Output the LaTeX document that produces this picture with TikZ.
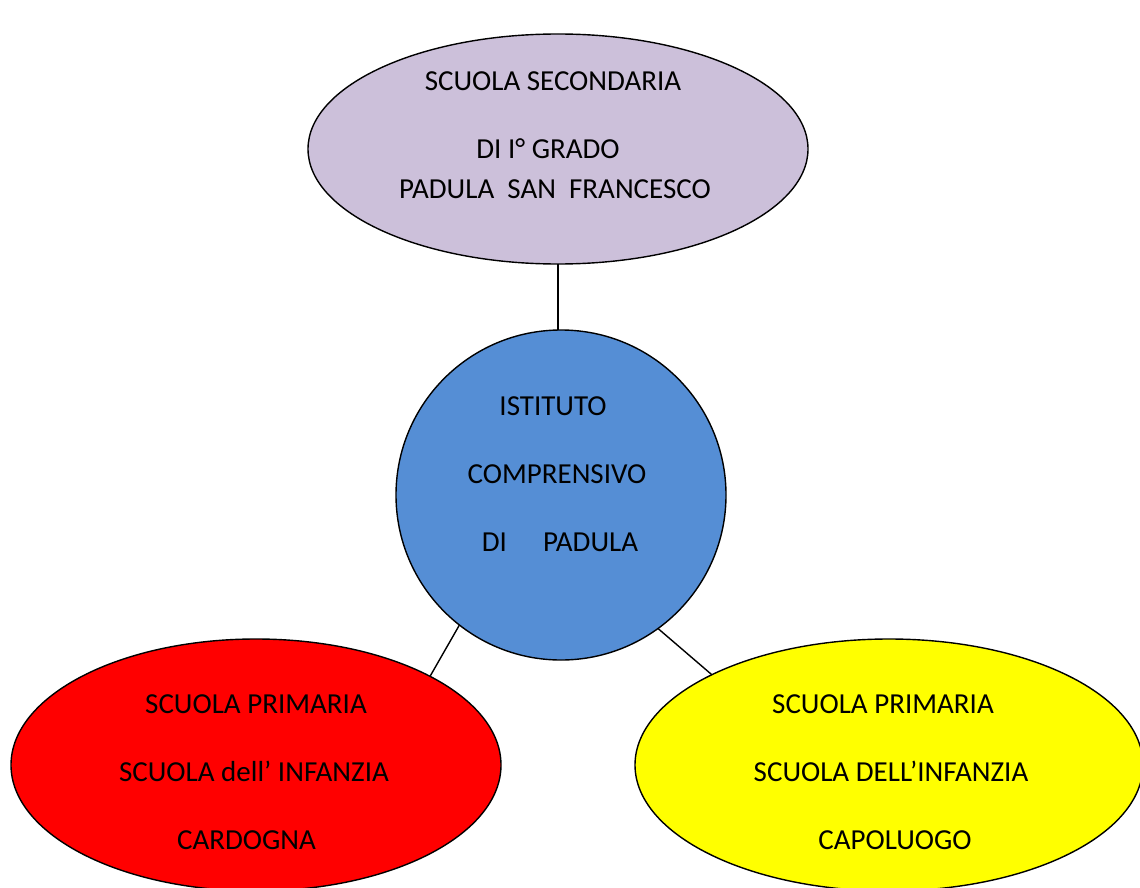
\documentclass[tikz,border=0pt]{standalone}
\usepackage{fontspec}
\setmainfont{Carlito}
\usetikzlibrary{shapes.geometric}
\definecolor{lavender}{HTML}{CCC0DA}
\definecolor{bluefill}{HTML}{558ED5}
\definecolor{redfill}{HTML}{FF0000}
\definecolor{yellowfill}{HTML}{FFFF00}
\begin{document}
\begin{tikzpicture}[x=1pt,y=-1pt,
  shapebox/.style={draw=black,line width=1.4pt,ellipse,inner sep=0pt,outer sep=0pt},
  lbl/.style={anchor=base,inner sep=0pt,font=\fontsize{29pt}{34pt}\selectfont},
  conn/.style={draw=black,line width=1.4pt}]
\useasboundingbox (0,0) rectangle (1140,888);
\clip (0,0) rectangle (1140,888);
\node[shapebox,fill=lavender,minimum width=500pt,minimum height=230pt] (sec) at (558,149) {};
\node[shapebox,circle,fill=bluefill,minimum size=330pt] (ic) at (561,495) {};
\node[shapebox,fill=redfill,minimum width=490pt,minimum height=252pt] (card) at (256,765) {};
\node[shapebox,fill=yellowfill,minimum width=508pt,minimum height=252pt] (capo) at (889,765) {};
\draw[conn] (sec.south) -- (sec.south |- ic.north);
\draw[conn] (ic.232.6) -- (card.27.6);
\draw[conn] (ic.306.6) -- (capo.153.2);
\node[lbl] (s1) at (553,91) {SCUOLA SECONDARIA};
\node[lbl] (s2) at (548,158) {DI I° GRADO};
\node[lbl] (s3) at (555,198) {PADULA\ \ SAN\ \ FRANCESCO};
\node[lbl] (c1) at (553,415) {ISTITUTO};
\node[lbl] (c2) at (557,483) {COMPRENSIVO};
\node[lbl] (c3) at (560,551) {DI\hspace{36pt}PADULA};
\node[lbl] (r1) at (256,713) {SCUOLA PRIMARIA};
\node[lbl] (r2) at (254,781) {SCUOLA dell’ INFANZIA};
\node[lbl] (r3) at (246.5,849) {CARDOGNA};
\node[lbl] (y1) at (883,713) {SCUOLA PRIMARIA};
\node[lbl] (y2) at (891,781) {SCUOLA DELL’INFANZIA};
\node[lbl] (y3) at (895,849) {CAPOLUOGO};
\end{tikzpicture}
\end{document}
